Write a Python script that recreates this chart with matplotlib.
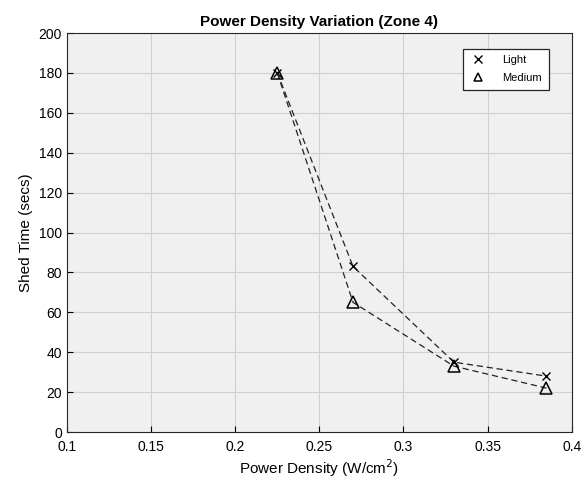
import matplotlib
matplotlib.use("Agg")
import matplotlib.pyplot as plt

# power density (W/cm^2) vs shed time (secs), zone 4
power_density = [0.225, 0.27, 0.33, 0.385]
light_shed = [180, 83, 35, 28]
medium_shed = [180, 65, 33, 22]

plt.rcParams["font.family"] = ["Liberation Sans", "DejaVu Sans"]

fig = plt.figure(figsize=(5.84, 4.84), dpi=100)
ax = fig.add_axes([0.1147, 0.1074, 0.8643, 0.8244])
ax.set_facecolor("#f0f0f0")

ax.plot(power_density, light_shed, ls=(0, (5, 3)), color="#222222", lw=0.9,
        marker="x", ms=6, mew=1.0, mec="black", label="Light")
ax.plot(power_density, medium_shed, ls=(0, (5, 3)), color="#222222", lw=0.9,
        marker="^", ms=8, mfc="none", mec="black", mew=1.1, label="Medium")

ax.set_xlim(0.1, 0.4)
ax.set_ylim(0, 200)
ax.set_xticks([0.1, 0.15, 0.2, 0.25, 0.3, 0.35, 0.4])
ax.set_xticklabels(["0.1", "0.15", "0.2", "0.25", "0.3", "0.35", "0.4"])
ax.set_yticks(range(0, 201, 20))
ax.tick_params(direction="in", length=4, labelsize=10, top=False, right=False)
ax.tick_params(axis="x", pad=6)
ax.grid(True, color="#d0d0d0", lw=0.8)
ax.set_axisbelow(True)
for s in ax.spines.values():
    s.set_color("#262626")
    s.set_linewidth(0.8)

ax.set_xlabel("Power Density (W/cm$^2$)", fontsize=11, labelpad=2)
ax.set_ylabel("Shed Time (secs)", fontsize=11)
ax.set_title("Power Density Variation (Zone 4)", fontsize=11, fontweight="bold", pad=5)

leg = ax.legend(loc="upper right", fontsize=8, fancybox=False, edgecolor="#262626",
                framealpha=1, handlelength=1.5, handletextpad=1.4, labelspacing=0.7,
                borderpad=0.6, bbox_to_anchor=(0.965, 0.975))
leg.get_frame().set_linewidth(0.9)
for h in leg.get_lines():
    h.set_linestyle("none")
    h.set_markersize(6)

fig.savefig("out.png", dpi=100)
